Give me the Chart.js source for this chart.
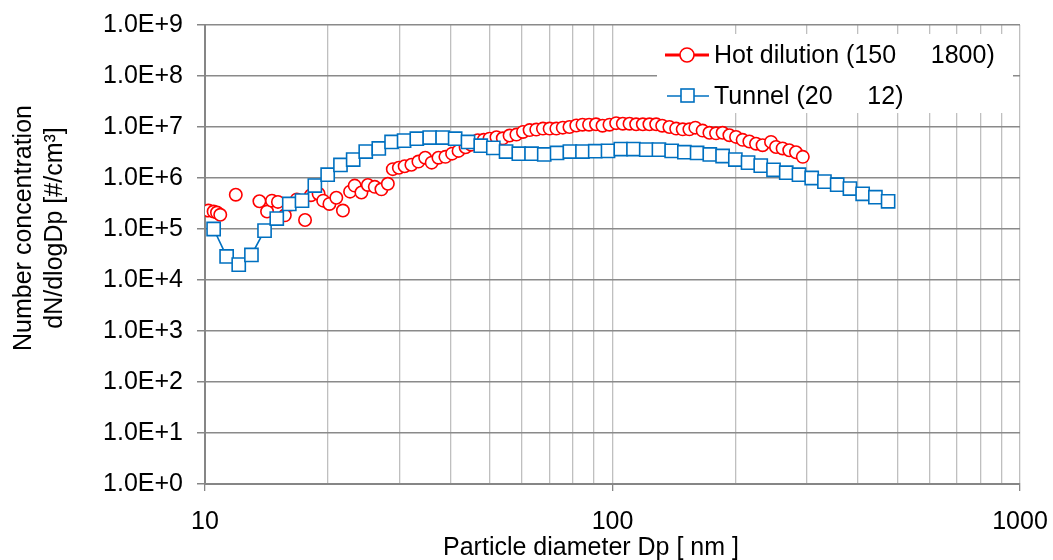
<!DOCTYPE html>
<html>
<head>
<meta charset="utf-8">
<script src="https://cdn.jsdelivr.net/npm/chart.js@4.4.1/dist/chart.umd.min.js"></script>
<style>
html, body { margin: 0; padding: 0; background: #ffffff; }
#cadre { width: 1053px; height: 560px; }
</style>
</head>
<body>
<div id="cadre"><canvas id="graphiqueTaille"></canvas></div>
<script>
// Hot dilution run: mobility diameter [nm] and dN/dlogDp [#/cm3]
var hot_dp = [10.2, 10.5, 10.7, 10.9, 11.9, 13.6, 14.2, 14.6, 15.1, 15.7,
  16.2, 16.8, 17.6, 18.2, 19.0, 19.5, 20.2, 21.0, 21.8, 22.7,
  23.3, 24.2, 25.1, 26.1, 27.1, 28.1, 28.9, 29.9, 30.9, 32.1,
  33.4, 34.7, 36.0, 37.4, 38.9, 40.4, 41.9, 43.6, 45.0, 46.7,
  48.3, 49.9, 51.9, 53.8, 55.9, 58.1, 60.3, 62.6, 65.0, 67.5,
  70.1, 72.8, 75.5, 78.4, 81.5, 84.4, 87.6, 91.1, 94.5, 98.3,
  102.1, 106.0, 110.1, 114.3, 118.7, 123.2, 128.0, 132.4, 137.9, 143.3,
  148.7, 154.4, 159.7, 166.4, 172.9, 179.5, 186.3, 193.6, 201.0, 208.6,
  216.7, 225.0, 233.5, 244.9, 251.9, 261.5, 271.5, 282.0, 293.1];
var hot_n = [2.3e5, 2.2e5, 2.1e5, 1.9e5, 4.7e5, 3.5e5, 2.2e5, 3.6e5, 3.4e5, 1.85e5,
  3.0e5, 3.8e5, 1.5e5, 4.6e5, 4.9e5, 3.6e5, 3.1e5, 4.1e5, 2.3e5, 5.4e5,
  7.1e5, 5.2e5, 7.3e5, 6.7e5, 6.0e5, 7.7e5, 1.49e6, 1.59e6, 1.70e6, 1.82e6,
  2.1e6, 2.5e6, 2.0e6, 2.5e6, 2.6e6, 3.0e6, 3.4e6, 4.0e6, 4.5e6, 5.5e6,
  5.6e6, 5.9e6, 6.3e6, 6.0e6, 6.8e6, 7.1e6, 8.0e6, 8.7e6, 8.9e6, 9.3e6,
  9.3e6, 9.3e6, 9.7e6, 1.0e7, 1.07e7, 1.11e7, 1.11e7, 1.13e7, 1.06e7, 1.11e7,
  1.19e7, 1.16e7, 1.16e7, 1.13e7, 1.13e7, 1.13e7, 1.13e7, 1.06e7, 1.0e7, 9.3e6,
  9.0e6, 9.0e6, 9.7e6, 8.5e6, 7.7e6, 7.5e6, 7.7e6, 6.9e6, 6.4e6, 5.6e6,
  5.2e6, 4.7e6, 4.4e6, 5.1e6, 4.05e6, 3.8e6, 3.5e6, 3.2e6, 2.6e6];

// Tunnel run
var tunnel_dp = [10.5, 11.3, 12.1, 13.0, 14.0, 15.0, 16.1, 17.3, 18.6, 20.0,
  21.5, 23.1, 24.8, 26.7, 28.7, 30.8, 33.1, 35.6, 38.3, 41.1,
  44.2, 47.5, 51.0, 54.8, 58.9, 63.3, 68.0, 73.1, 78.6, 84.4,
  90.7, 97.5, 104.8, 112.6, 121.0, 130.0, 139.7, 150.1, 161.3, 173.3,
  186.3, 200.2, 215.1, 231.1, 248.4, 266.9, 286.8, 308.2, 331.2, 355.9,
  382.5, 411.0, 441.7, 474.6];
var tunnel_n = [1.0e5, 2.9e4, 2.0e4, 3.1e4, 9.3e4, 1.6e5, 3.1e5, 3.6e5, 7.1e5, 1.16e6,
  1.8e6, 2.3e6, 3.3e6, 3.8e6, 5.1e6, 5.4e6, 5.9e6, 6.2e6, 6.2e6, 5.9e6,
  5.1e6, 4.3e6, 3.9e6, 3.3e6, 3.0e6, 3.0e6, 2.9e6, 3.1e6, 3.3e6, 3.3e6,
  3.35e6, 3.4e6, 3.7e6, 3.7e6, 3.6e6, 3.6e6, 3.4e6, 3.2e6, 3.1e6, 2.9e6,
  2.7e6, 2.3e6, 2.0e6, 1.75e6, 1.45e6, 1.27e6, 1.16e6, 1.0e6, 8.5e5, 7.4e5,
  6.2e5, 4.9e5, 4.2e5, 3.5e5];

var noms_series = ['Hot dilution (150     1800)', 'Tunnel (20     12)'];
var ticks_x = [10, 20, 30, 40, 50, 60, 70, 80, 90, 100, 200, 300, 400, 500, 600, 700, 800, 900, 1000];
var ticks_y = [1, 10, 100, 1e3, 1e4, 1e5, 1e6, 1e7, 1e8, 1e9];
var titre_x = 'Particle diameter Dp [ nm ]';
var titre_y = ['Number concentration', 'dN/dlogDp [#/cm\u00B3]'];

var police = '"Liberation Sans", Arial, sans-serif';
var rouge = '#ff0000';
var bleu = '#0070c0';

function estDecade(v) {
  var e = Math.log10(v);
  return Math.abs(e - Math.round(e)) < 1e-9;
}

function points(xs, ys) {
  return xs.map(function (x, i) { return { x: x, y: ys[i] }; });
}

// legend box in the upper right of the plot, plus both axis titles
var decor = {
  id: 'decor',
  afterDraw: function (chart) {
    var c = chart.ctx;
    c.save();
    c.fillStyle = '#ffffff';
    c.fillRect(657, 34, 356, 79);

    c.font = '25px ' + police;
    c.textBaseline = 'middle';
    c.textAlign = 'left';

    // entry 1
    c.strokeStyle = rouge;
    c.lineWidth = 3;
    c.beginPath(); c.moveTo(665, 55); c.lineTo(709, 55); c.stroke();
    c.lineWidth = 1.6;
    c.fillStyle = '#ffffff';
    c.beginPath(); c.arc(687, 55, 7, 0, Math.PI * 2); c.fill(); c.stroke();
    c.fillStyle = '#000000';
    c.fillText(noms_series[0], 714, 56);

    // entry 2
    c.strokeStyle = bleu;
    c.lineWidth = 1.6;
    c.beginPath(); c.moveTo(667, 96); c.lineTo(709, 96); c.stroke();
    c.fillStyle = '#ffffff';
    c.fillRect(681, 89, 13, 13);
    c.strokeRect(681, 89, 13, 13);
    c.fillStyle = '#000000';
    c.fillText(noms_series[1], 714, 97);

    // axis titles
    c.textAlign = 'center';
    c.fillText(titre_x, 591, 548);
    c.translate(24, 228);
    c.rotate(-Math.PI / 2);
    c.fillText(titre_y[0], 0, 0);
    c.fillText(titre_y[1], 0, 31);
    c.restore();
  }
};

var ctxTaille = document.getElementById('graphiqueTaille').getContext('2d');
var graphiqueTaille = new Chart(ctxTaille, {
  type: 'scatter',
  data: {
    datasets: [{
      label: noms_series[0],
      data: points(hot_dp, hot_n),
      showLine: false,
      pointStyle: 'circle',
      pointRadius: 6.2,
      pointBorderWidth: 1.6,
      pointBorderColor: rouge,
      pointBackgroundColor: '#ffffff',
      borderColor: rouge,
      order: 2
    }, {
      label: noms_series[1],
      data: points(tunnel_dp, tunnel_n),
      showLine: true,
      borderColor: bleu,
      borderWidth: 1.6,
      pointStyle: 'rect',
      pointRadius: 9.3,
      pointBorderWidth: 1.6,
      pointBorderColor: bleu,
      pointBackgroundColor: '#ffffff',
      order: 1
    }]
  },
  options: {
    responsive: true,
    maintainAspectRatio: false,
    animation: false,
    layout: { padding: { top: 25, right: 33, left: 0, bottom: 0 } },
    plugins: {
      legend: { display: false },
      tooltip: { enabled: false }
    },
    scales: {
      x: {
        type: 'logarithmic',
        min: 10,
        max: 1000,
        afterBuildTicks: function (axis) {
          axis.ticks = ticks_x.map(function (v) { return { value: v }; });
        },
        afterFit: function (axis) {
          axis.height = 76;
          axis.paddingLeft = 0;
          axis.paddingRight = 0;
        },
        ticks: {
          autoSkip: false,
          maxRotation: 0,
          padding: 16,
          color: '#000000',
          font: { family: police, size: 25 },
          callback: function (v) { return estDecade(v) ? String(v) : ''; }
        },
        grid: {
          color: '#bfbfbf',
          lineWidth: 1.3,
          tickLength: 7,
          tickColor: function (ctx) {
            return ctx.tick && estDecade(ctx.tick.value) ? '#868686' : 'rgba(0,0,0,0)';
          }
        },
        border: { color: '#868686', width: 2 }
      },
      y: {
        type: 'logarithmic',
        min: 1,
        max: 1e9,
        afterBuildTicks: function (axis) {
          axis.ticks = ticks_y.map(function (v) { return { value: v }; });
        },
        afterFit: function (axis) {
          axis.width = 205;
          axis.paddingTop = 0;
          axis.paddingBottom = 0;
        },
        ticks: {
          autoSkip: false,
          padding: 14,
          color: '#000000',
          font: { family: police, size: 25 },
          callback: function (v) { return '1.0E+' + Math.round(Math.log10(v)); }
        },
        grid: {
          color: '#8a8a8a',
          lineWidth: 1.5,
          tickLength: 8,
          tickColor: '#868686'
        },
        border: { color: '#868686', width: 2 }
      }
    }
  },
  plugins: [decor]
});
</script>
</body>
</html>
